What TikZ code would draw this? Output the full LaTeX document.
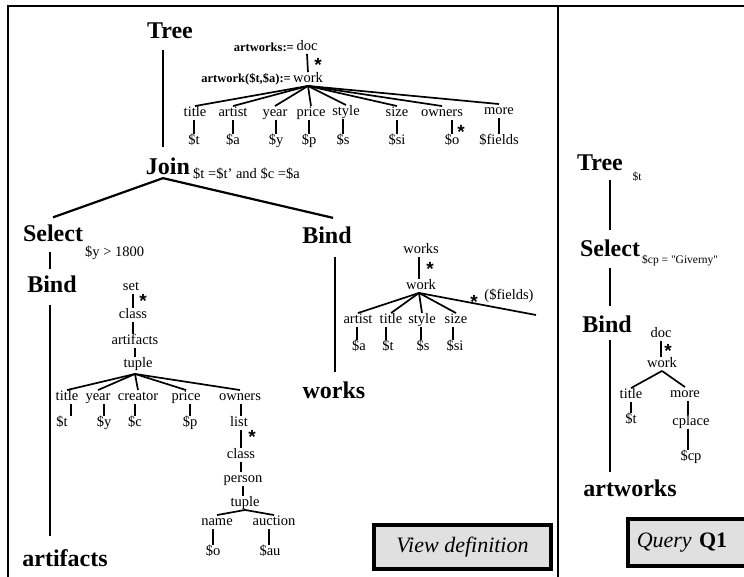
\documentclass[tikz,border=0pt]{standalone}
\usepackage{fontspec}
\setmainfont{Liberation Serif}
\newfontfamily\starfont{Liberation Sans}
\begin{document}
\begin{tikzpicture}[x=1pt,y=-1pt,
  big/.style={font=\fontsize{24}{24}\selectfont\bfseries, inner sep=0pt},
  lbl/.style={font=\fontsize{14.5}{14.5}\selectfont, inner sep=0pt, text height=10.5pt, text depth=3pt},
  cond/.style={font=\fontsize{14.5}{14.5}\selectfont, inner sep=0pt, anchor=west},
  defn/.style={font=\fontsize{12.5}{12.5}\selectfont\bfseries, inner sep=0pt, anchor=east},
  note/.style={font=\fontsize{11.5}{11.5}\selectfont, inner sep=0pt},
  star/.style={font=\fontsize{19}{19}\selectfont\starfont\bfseries, inner sep=0pt, yshift=-4pt},
  op/.style={line width=2.2pt},
  edge/.style={line width=1.7pt},
  frame/.style={line width=2pt},
  box/.style={draw, line width=3.5pt, fill=black!12, font=\fontsize{22}{22}\selectfont}
]
\useasboundingbox (0,0) rectangle (744,577);

% panel frame and divider
\draw[frame] (8,577) -- (8,6) -- (744,6);
\draw[frame] (558,6) -- (558,577);

% ---------- view definition: operators ----------
\node[big] (tree1) at (170,31) {Tree};
\node[big] (join) at (168,166) {Join};
\node[cond] (joincond) at (193,174) {\$t =\$t' and \$c =\$a};
\node[big] (sel1) at (53,233) {Select};
\node[cond] (selcond) at (85,253) {\$y > 1800};
\node[big] (bindA) at (52,284) {Bind};
\node[big] (artif) at (65,558) {artifacts};
\node[big] (bindB) at (327,235) {Bind};
\node[big] (worksB) at (334,390) {works};

\draw[op, shorten <=11pt, shorten >=10pt] ([xshift=-7pt]tree1.south) -- ([xshift=-5pt]join.north);
\coordinate (japex) at ([xshift=-5pt,yshift=-3.5pt]join.south);
\draw[op] (japex) -- ([yshift=7pt]sel1.north);
\draw[op] (japex) -- ([xshift=6pt,yshift=8.5pt]bindB.north);
\draw[op, shorten <=10pt, shorten >=6pt] ([xshift=-3pt]sel1.south) -- ([xshift=-2pt]bindA.north);
\draw[op, shorten <=12pt, shorten >=13pt] ([xshift=-2pt]bindA.south) -- ([xshift=-15pt]artif.north);
\draw[op, shorten <=13pt, shorten >=9pt] ([xshift=8pt]bindB.south) -- ([xshift=1pt]worksB.north);

% ---------- tree pattern of the view ----------
\node[lbl] (doc1) at (307,47) {doc};
\node[defn] (artworksdef) at (294,47) {artworks:=};
\node[lbl] (work1) at (308,79) {work};
\node[defn] (artworkdef) at (291,79) {artwork(\$t,\$a):=};
\draw[edge] (doc1.south) -- (work1.north);
\node[star] (s1) at (318,61) {*};

\node[lbl] (c1) at (195,113) {title};
\node[lbl] (c2) at (233,113) {artist};
\node[lbl] (c3) at (275,113) {year};
\node[lbl] (c4) at (311,113) {price};
\node[lbl] (c5) at (346,112) {style};
\node[lbl] (c6) at (397,113) {size};
\node[lbl] (c7) at (442,113) {owners};
\node[lbl] (c8) at (499,111) {more};
\node[lbl] (v1) at (194,141) {\$t};
\node[lbl] (v2) at (233,141) {\$a};
\node[lbl] (v3) at (276,141) {\$y};
\node[lbl] (v4) at (309,141) {\$p};
\node[lbl] (v5) at (343,141) {\$s};
\node[lbl] (v6) at (397,141) {\$si};
\node[lbl] (v7) at (452,141) {\$o};
\node[lbl] (v8) at (499,141) {\$fields};
\foreach \i in {1,...,8} {
  \draw[edge] (work1.south) -- (c\i.north);
  \draw[edge] (v\i.north |- c\i.south) -- (v\i.north);
}
\node[star] (s2) at (461,128) {*};

% ---------- artifacts source pattern ----------
\node[lbl] (set) at (131,287) {set};
\node[lbl] (class1) at (133,315) {class};
\node[lbl] (artifs) at (135,341) {artifacts};
\node[lbl] (tup1) at (138,364) {tuple};
\draw[edge] (class1.north |- set.south) -- (class1.north);
\node[star] (s3) at (143,297) {*};
\draw[edge] (class1.south) -- (class1.south |- artifs.north);
\draw[edge] (artifs.south) -- (artifs.south |- tup1.north);

\node[lbl] (d1) at (67,397) {title};
\node[lbl] (d2) at (98,397) {year};
\node[lbl] (d3) at (138,397) {creator};
\node[lbl] (d4) at (186,397) {price};
\node[lbl] (d5) at (240,397) {owners};
\coordinate (tapex) at ([xshift=-3pt,yshift=-3pt]tup1.south);
\foreach \i in {1,...,5} \draw[edge] (tapex) -- (d\i.north);

\node[lbl] (w1) at (62,423) {\$t};
\node[lbl] (w2) at (104,423) {\$y};
\node[lbl] (w3) at (135,423) {\$c};
\node[lbl] (w4) at (190,423) {\$p};
\node[lbl] (list) at (239,423) {list};
\draw[edge] ([xshift=4pt]d1.south) -- ([xshift=9pt]w1.north);
\foreach \i in {2,3,4} \draw[edge] (w\i.north |- d\i.south) -- (w\i.north);
\draw[edge] ([xshift=1pt]d5.south) -- ([xshift=2pt]list.north);

\node[lbl] (class2) at (241,455) {class};
\node[lbl] (person) at (243,479) {person};
\node[lbl] (tup2) at (245,503) {tuple};
\draw[edge] ([xshift=2pt]list.south) -- (class2.north);
\node[star] (s4) at (252,433) {*};
\draw[edge] (class2.south) -- (class2.south |- person.north);
\draw[edge] (person.south) -- (person.south |- tup2.north);

\node[lbl] (name) at (217,522) {name};
\node[lbl] (auction) at (274,522) {auction};
\draw[edge] (tup2.south) -- (name.north);
\draw[edge] (tup2.south) -- (auction.north);
\node[lbl] (vo2) at (213,552) {\$o};
\node[lbl] (vau) at (270,552) {\$au};
\draw[edge] (vo2.north |- name.south) -- (vo2.north);
\draw[edge] ([xshift=-1pt]vau.north |- auction.south) -- ([xshift=-1pt]vau.north);

% ---------- works source pattern ----------
\node[lbl] (worksS) at (421,250) {works};
\node[lbl] (work2) at (421,286) {work};
\draw[edge] ([xshift=-2pt]worksS.south) -- ([xshift=-2pt]work2.north);
\node[star] (s5) at (430,265) {*};
\coordinate (wapex) at ([xshift=-2pt]work2.south);

\node[lbl] (e1) at (358,320) {artist};
\node[lbl] (e2) at (391,320) {title};
\node[lbl] (e3) at (422,320) {style};
\node[lbl] (e4) at (456,320) {size};
\node[lbl] (f1) at (359,347) {\$a};
\node[lbl] (f2) at (388,347) {\$t};
\node[lbl] (f3) at (423,347) {\$s};
\node[lbl] (f4) at (455,347) {\$si};
\foreach \i in {1,...,4} {
  \draw[edge] (wapex) -- (e\i.north);
  \draw[edge] ([xshift=-2pt]f\i.north |- e\i.south) -- ([xshift=-2pt]f\i.north);
}
\coordinate (wrest) at (536,315);
\draw[edge] (wapex) -- (wrest);
\node[star] (s6) at (474,298) {*};
\node[lbl] (restlbl) at (509,296) {(\$fields)};

% ---------- View definition label ----------
\node[box, minimum width=177pt, minimum height=44pt, inner sep=0pt] (vdef) at (462.5,547) {\itshape View definition};

% ---------- query Q1 ----------
\node[big] (tree2) at (600,163) {Tree};
\node[note] (tree2var) at (637,177) {\$t};
\node[big] (sel2) at (610,248) {Select};
\node[note, anchor=west] (sel2cond) at (642,261) {\$cp = \textquotedbl Giverny\textquotedbl};
\node[big] (bind2) at (607,324) {Bind};
\node[big] (artw) at (630,488) {artworks};

\draw[op, shorten <=9pt, shorten >=9pt] ([xshift=10pt]tree2.south) -- (sel2.north);
\draw[op, shorten <=11pt, shorten >=9pt] (sel2.south) -- ([xshift=3pt]bind2.north);
\draw[op, shorten <=7pt, shorten >=7pt] ([xshift=3pt]bind2.south) -- ([xshift=-20pt]artw.north);

\node[lbl] (doc2) at (661,334) {doc};
\node[lbl] (work3) at (662,364) {work};
\draw[edge] (doc2.south) -- (doc2.south |- work3.north);
\node[star] (s7) at (668,347) {*};
\node[lbl] (title3) at (631,395) {title};
\node[lbl] (more3) at (685,394) {more};
\draw[edge] (work3.south) -- (title3.north);
\draw[edge] (work3.south) -- (more3.north);
\node[lbl] (vt3) at (631,420) {\$t};
\draw[edge] (title3.south) -- (vt3.north);
\node[lbl] (cplace) at (691,422) {cplace};
\draw[edge] ([xshift=3pt]more3.south) -- ([xshift=-3pt]cplace.north);
\node[lbl] (vcp) at (691,457) {\$cp};
\draw[edge] ([xshift=-3pt]cplace.south) -- ([xshift=-3pt]vcp.north);

\node[box, anchor=west, minimum height=47pt, text width=150pt, inner xsep=9pt, inner ysep=0pt, align=left] (q1) at (626,542.5) {\textit{Query} \textbf{Q1}};
\end{tikzpicture}
\end{document}
